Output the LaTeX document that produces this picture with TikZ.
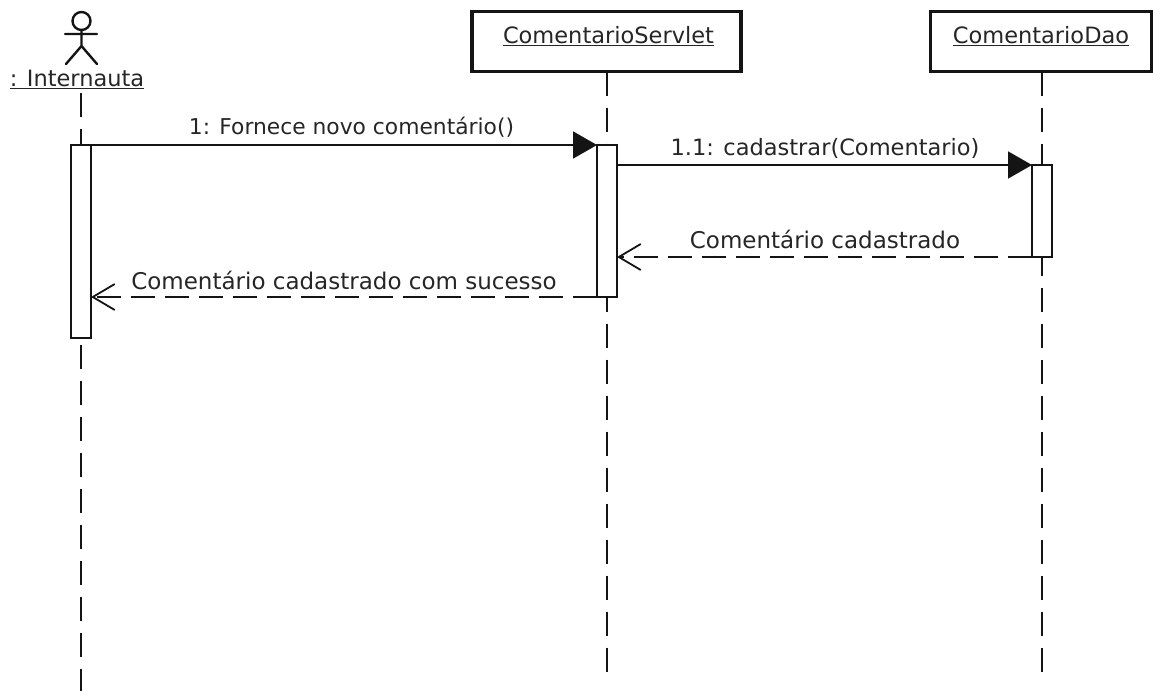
\documentclass[tikz,border=0pt]{standalone}
\usepackage{fontspec}
\setmainfont{DejaVu Sans}
\usetikzlibrary{arrows.meta}
\tikzset{
  every node/.style={outer sep=0pt},
  ink/.style={draw=black!92,line width=1.8pt},
  objbox/.style={ink,line width=3.2pt,fill=white,minimum height=60pt,inner sep=0pt,anchor=north west},
  activation/.style={ink,fill=white,minimum width=20pt,inner sep=0pt,anchor=north west},
  lifeline/.style={ink,dash pattern=on 24pt off 12pt},
  call/.style={ink,-{Triangle[length=24pt,width=27pt]}},
  reply/.style={ink,dash pattern=on 24pt off 10pt,-{Straight Barb[length=22pt,width=26pt,line width=1.8pt]}},
  lbl/.style={font=\fontsize{22.5}{24}\selectfont,text=black!85,inner sep=0pt},
  lblwide/.style={font=\fontsize{23}{24}\selectfont,text=black!85,inner sep=0pt},
  lblnarrow/.style={font=\fontsize{21.8}{24}\selectfont,text=black!85,inner sep=0pt},
}
\begin{document}
\begin{tikzpicture}[x=1pt,y=-1pt]
\useasboundingbox (0,0) rectangle (1153,691);
% objects
\node[objbox,minimum width=269pt] (servlet) at (472,11.5) {};
\node[objbox,minimum width=221pt] (dao) at (930.5,11.5) {};
\node[lbl] (servletT) at (608.5,36) {\underline{ComentarioServlet}};
\node[lbl] (daoT) at (1041,36) {\underline{ComentarioDao}};
% actor
\node[lbl] (actorT) at (77,79) {\underline{: Internauta}};
\node[circle,ink,line width=2.4pt,minimum size=18pt,inner sep=0pt] (head) at (81.5,21) {};
\coordinate (armL) at (65,34);\coordinate (armR) at (97,34);
\coordinate (hip) at (81.5,46);\coordinate (legL) at (66,64);\coordinate (legR) at (97,64);
\draw[ink,line width=2.4pt,line cap=round] (head.south) -- (hip) (armL) -- (armR) (legL) -- (hip) -- (legR);
% lifelines
\coordinate (aTop) at (81,93);\coordinate (aEnd) at (81,691);
\coordinate (sEnd) at (607,675);\coordinate (dEnd) at (1042,675);
\draw[lifeline] (aTop) -- (aEnd);
\draw[lifeline] (servlet.south -| sEnd) -- (sEnd);
\draw[lifeline] (dao.south -| dEnd) -- (dEnd);
% activations
\node[activation,minimum height=193pt] (actA) at (71,145) {};
\node[activation,minimum height=152pt] (actS) at (597,145) {};
\node[activation,minimum height=92pt] (actD) at (1032,165) {};
% messages
\coordinate (m2) at (617,165);\coordinate (m3) at (617,257);\coordinate (m4) at (91,297);
\draw[call] (actA.north east) -- (actS.north west);
\draw[call] (m2) -- (actD.north west);
\draw[reply] (actD.south west) -- (m3);
\draw[reply] (actS.south west) -- (m4);
% labels
\node[lblnarrow] (l1) at (351.5,127.5) {1: Fornece novo comentário()};
\node[lbl] (l2) at (825,148) {1.1: cadastrar(Comentario)};
\node[lblwide] (l3) at (825,239) {Comentário cadastrado};
\node[lblwide] (l4) at (344,280.5) {Comentário cadastrado com sucesso};
\end{tikzpicture}
\end{document}
